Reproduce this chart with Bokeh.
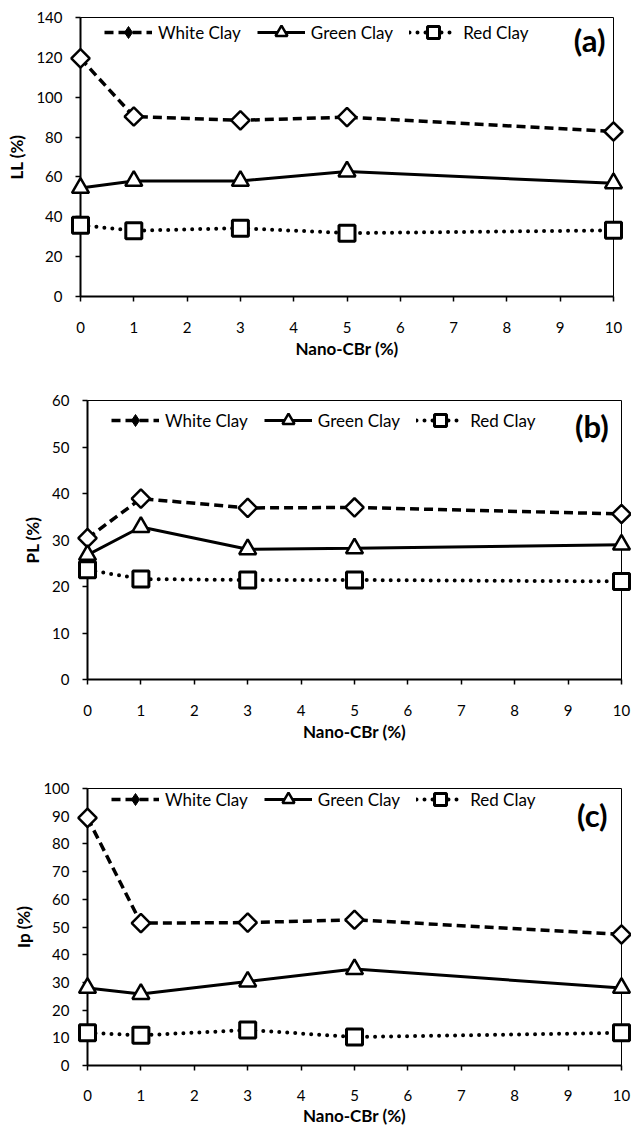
from bokeh.plotting import figure
from bokeh.models import Label, Legend, LegendItem, FixedTicker, Range1d
from bokeh.embed import file_html
from bokeh.resources import INLINE
import numpy as np

nano = [0, 1, 3, 5, 10]
x_ticks = [0, 1, 2, 3, 4, 5, 6, 7, 8, 9, 10]
series_names = ["White Clay", "Green Clay", "Red Clay"]

ll_white = [119.5, 90.3, 88.4, 90.0, 82.8]
ll_green = [54.5, 58.0, 58.0, 62.7, 56.8]
ll_red = [35.8, 33.0, 34.3, 31.8, 33.2]

pl_white = [30.4, 38.9, 36.9, 37.0, 35.6]
pl_green = [26.8, 32.8, 28.0, 28.2, 29.0]
pl_red = [23.6, 21.6, 21.4, 21.4, 21.1]

ip_white = [89.4, 51.4, 51.6, 52.6, 47.3]
ip_green = [28.0, 25.8, 30.3, 34.8, 28.0]
ip_red = [11.8, 10.9, 12.8, 10.3, 11.8]

ll_ticks = [0, 20, 40, 60, 80, 100, 120, 140]
pl_ticks = [0, 10, 20, 30, 40, 50, 60]
ip_ticks = [0, 10, 20, 30, 40, 50, 60, 70, 80, 90, 100]

FONT = "Lato"


def panel(white, green, red, yticks, ylabel, tag, height, b_left, b_top, b_bottom,
          b_right, leg_y, tag_y, tag_x, xl_standoff, xt_standoff):
    ymax = yticks[-1]
    p = figure(width=631, height=height, output_backend="svg", toolbar_location=None,
               x_range=Range1d(0, 10), y_range=Range1d(0, ymax),
               min_border_left=b_left, min_border_top=b_top,
               min_border_bottom=b_bottom, min_border_right=b_right)
    p.xgrid.visible = False
    p.ygrid.visible = False
    p.outline_line_color = "black"
    p.outline_line_width = 1
    p.background_fill_color = "white"
    p.border_fill_color = "white"

    for ax in (p.xaxis[0], p.yaxis[0]):
        ax.axis_line_width = 2
        ax.axis_line_color = "black"
        ax.major_tick_line_width = 1.5
        ax.major_tick_line_color = "black"
        ax.major_tick_out = 5
        ax.major_tick_in = 0
        ax.minor_tick_line_color = None
        ax.major_label_text_font = FONT
        ax.major_label_text_font_size = "15px"
        ax.major_label_text_color = "black"
        ax.axis_label_text_font = FONT
        ax.axis_label_text_font_size = "17px"
        ax.axis_label_text_font_style = "bold"
        ax.axis_label_text_color = "black"

    p.xaxis.ticker = FixedTicker(ticks=x_ticks)
    p.yaxis.ticker = FixedTicker(ticks=yticks)
    p.xaxis.axis_label = "Nano-CBr (%)"
    p.yaxis.axis_label = ylabel
    p.xaxis.major_label_standoff = xt_standoff
    p.xaxis.axis_label_standoff = xl_standoff
    p.yaxis.major_label_standoff = 13
    p.yaxis.axis_label_standoff = 6

    r1l = p.line(nano, white, line_color="black", line_width=3.5, line_dash="9 5")
    p.scatter(nano, white, marker="square", size=13, angle=np.pi / 4,
              fill_color="white", line_color="black", line_width=2.5, level="overlay")
    r1k = p.scatter([-100], [-100], marker="diamond", size=20,
                    fill_color="black", line_color="black", line_width=1)
    r2l = p.line(nano, green, line_color="black", line_width=3)
    r2m = p.scatter(nano, green, marker="triangle", size=17,
                    fill_color="white", line_color="black", line_width=2.5, level="overlay")
    r3l = p.line(nano, red, line_color="black", line_width=4, line_dash="0 8",
                 line_cap="round")
    r3m = p.scatter(nano, red, marker="square", size=16,
                    fill_color="white", line_color="black", line_width=3, level="overlay")

    legend = Legend(items=[
        LegendItem(label=series_names[0], renderers=[r1l, r1k]),
        LegendItem(label=series_names[1], renderers=[r2l, r2m]),
        LegendItem(label=series_names[2], renderers=[r3l, r3m]),
    ], orientation="horizontal", location=(24, leg_y))
    legend.border_line_color = None
    legend.background_fill_alpha = 0
    legend.padding = 0
    legend.margin = 0
    legend.spacing = 16
    legend.glyph_width = 48
    legend.glyph_height = 30
    legend.label_height = 30
    legend.label_standoff = 6
    legend.label_text_font = FONT
    legend.label_text_font_size = "17px"
    legend.label_text_color = "black"
    p.add_layout(legend, "center")

    p.add_layout(Label(x=tag_x, y=tag_y, text=tag, text_align="right",
                       text_baseline="middle", text_font=FONT,
                       text_font_size="31px", text_font_style="bold",
                       text_color="black"))
    return p


pa = panel(ll_white, ll_green, ll_red, ll_ticks, "LL (%)", "(a)", 361,
           80, 17, 64, 18, 249, 128.5, 9.85, 2, 20)
pb = panel(pl_white, pl_green, pl_red, pl_ticks, "PL (%)", "(b)", 383,
           87, 39, 64, 10, 244, 54.6, 9.76, 2, 20)
pc = panel(ip_white, ip_green, ip_red, ip_ticks, "Ip (%)", "(c)", 384,
           87, 44, 60, 10, 251, 90.4, 9.74, 1, 19)

open("out.html", "w").write(file_html([pa, pb, pc], INLINE))
